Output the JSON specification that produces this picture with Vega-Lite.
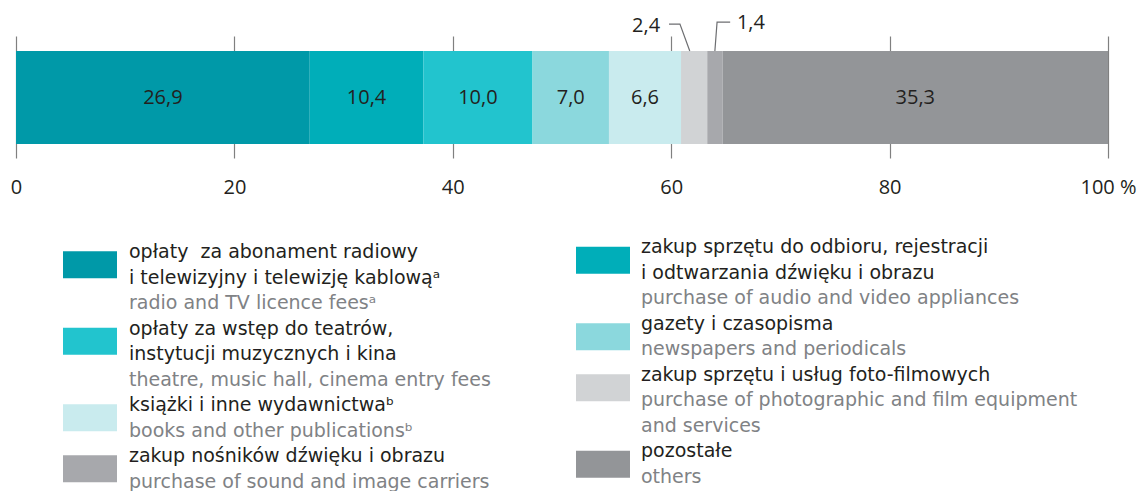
{
  "$schema": "https://vega.github.io/schema/vega-lite/v6.json",
  "width": 1146,
  "height": 491,
  "padding": 0,
  "autosize": {"type": "none"},
  "background": "#ffffff",
  "config": {
    "view": {"stroke": null},
    "font": "Open Sans",
    "locale": {"number": {"decimal": ",", "thousands": "\u00a0", "grouping": [3], "currency": ["", " zł"]}}
  },
  "datasets": {
    "segments": [
      {"key": "radio", "order": 1, "value": 26.9},
      {"key": "audio", "order": 2, "value": 10.4},
      {"key": "theatre", "order": 3, "value": 10.0},
      {"key": "news", "order": 4, "value": 7.0},
      {"key": "books", "order": 5, "value": 6.6},
      {"key": "photo", "order": 6, "value": 2.4},
      {"key": "carriers", "order": 7, "value": 1.4},
      {"key": "others", "order": 8, "value": 35.3}
    ],
    "leaders": [
      {"id": "photo", "pt": 1, "x": 59.8, "y": 1.29},
      {"id": "photo", "pt": 2, "x": 60.8, "y": 1.29},
      {"id": "photo", "pt": 3, "x": 61.7, "y": 1.0},
      {"id": "carriers", "pt": 1, "x": 65.4, "y": 1.31},
      {"id": "carriers", "pt": 2, "x": 64.2, "y": 1.31},
      {"id": "carriers", "pt": 3, "x": 64.0, "y": 1.0}
    ],
    "callouts": [
      {"key": "photo", "value": 2.4, "x": 57.7, "y": 1.208},
      {"key": "carriers", "value": 1.4, "x": 67.3, "y": 1.237}
    ],
    "swatches": [
      {"key": "radio", "col": 0, "line": 0},
      {"key": "theatre", "col": 0, "line": 3},
      {"key": "books", "col": 0, "line": 6},
      {"key": "carriers", "col": 0, "line": 8},
      {"key": "audio", "col": 1, "line": 0},
      {"key": "news", "col": 1, "line": 3},
      {"key": "photo", "col": 1, "line": 5},
      {"key": "others", "col": 1, "line": 8}
    ],
    "legendText": [
      {"col": 0, "line": 0, "lang": "pl", "text": "opłaty\u00a0 za abonament radiowy"},
      {"col": 0, "line": 1, "lang": "pl", "text": "i telewizyjny i telewizję kablową\u1d43"},
      {"col": 0, "line": 2, "lang": "en", "text": "radio and TV licence fees\u1d43"},
      {"col": 0, "line": 3, "lang": "pl", "text": "opłaty za wstęp do teatrów,"},
      {"col": 0, "line": 4, "lang": "pl", "text": "instytucji muzycznych i kina"},
      {"col": 0, "line": 5, "lang": "en", "text": "theatre, music hall, cinema entry fees"},
      {"col": 0, "line": 6, "lang": "pl", "text": "książki i inne wydawnictwa\u1d47"},
      {"col": 0, "line": 7, "lang": "en", "text": "books and other publications\u1d47"},
      {"col": 0, "line": 8, "lang": "pl", "text": "zakup nośników dźwięku i obrazu"},
      {"col": 0, "line": 9, "lang": "en", "text": "purchase of sound and image carriers"},
      {"col": 1, "line": 0, "lang": "pl", "text": "zakup sprzętu do odbioru, rejestracji"},
      {"col": 1, "line": 1, "lang": "pl", "text": "i odtwarzania dźwięku i obrazu"},
      {"col": 1, "line": 2, "lang": "en", "text": "purchase of audio and video appliances"},
      {"col": 1, "line": 3, "lang": "pl", "text": "gazety i czasopisma"},
      {"col": 1, "line": 4, "lang": "en", "text": "newspapers and periodicals"},
      {"col": 1, "line": 5, "lang": "pl", "text": "zakup sprzętu i usług foto-filmowych"},
      {"col": 1, "line": 6, "lang": "en", "text": "purchase of photographic and film equipment"},
      {"col": 1, "line": 7, "lang": "en", "text": "and services"},
      {"col": 1, "line": 8, "lang": "pl", "text": "pozostałe"},
      {"col": 1, "line": 9, "lang": "en", "text": "others"}
    ]
  },
  "layer": [
    {
      "layer": [
        {
          "data": {"name": "segments"},
          "transform": [
            {"stack": "value", "groupby": [], "sort": [{"field": "order", "order": "ascending"}], "as": ["x0", "x1"]}
          ],
          "mark": {"type": "rect"},
          "encoding": {
            "x": {
              "field": "x0", "type": "quantitative",
              "scale": {"domain": [0, 100], "range": [16, 1108], "nice": false, "zero": false},
              "axis": {
                "values": [0, 20, 40, 60, 80, 100],
                "domain": false, "grid": false, "ticks": true,
                "tickSize": -122, "tickColor": "#808080", "tickWidth": 1.2,
                "offset": -333, "zindex": 0,
                "labelPadding": 157, "labelBaseline": "alphabetic",
                "labelFontSize": 20, "labelColor": "#231f20", "labelFont": "Open Sans",
                "labelFlush": false, "labelOverlap": false, "title": null,
                "labelExpr": "datum.value == 100 ? '\u00a0\u00a0\u00a0\u00a0\u00a0100\u00a0%' : datum.label"
              }
            },
            "x2": {"field": "x1"},
            "y": {"datum": 0, "type": "quantitative", "scale": {"domain": [0, 1], "range": [144, 51], "nice": false, "zero": false}, "axis": null},
            "y2": {"datum": 1},
            "color": {
              "field": "key", "type": "nominal", "legend": null,
              "scale": {
                "domain": ["radio", "audio", "theatre", "news", "books", "photo", "carriers", "others"],
                "range": ["#0099a8", "#00aeb9", "#22c4ce", "#8bd8dd", "#c9ebee", "#d1d3d5", "#a7a8ac", "#939598"]
              }
            }
          }
        },
        {
          "data": {"name": "segments"},
          "transform": [
            {"stack": "value", "groupby": [], "sort": [{"field": "order", "order": "ascending"}], "as": ["x0", "x1"]},
            {"filter": "datum.value >= 5"},
            {"calculate": "(datum.x0 + datum.x1) / 2", "as": "mid"}
          ],
          "mark": {"type": "text", "align": "center", "baseline": "middle", "fontSize": 20, "color": "#231f20"},
          "encoding": {
            "x": {"field": "mid", "type": "quantitative"},
            "y": {"datum": 0.5, "type": "quantitative"},
            "text": {"field": "value", "type": "quantitative", "format": ".1f"}
          }
        },
        {
          "data": {"name": "leaders"},
          "mark": {"type": "line", "stroke": "#6d6e71", "strokeWidth": 1.2},
          "encoding": {
            "x": {"field": "x", "type": "quantitative"},
            "y": {"field": "y", "type": "quantitative"},
            "detail": {"field": "id"},
            "order": {"field": "pt", "type": "quantitative"}
          }
        },
        {
          "data": {"name": "callouts"},
          "mark": {"type": "text", "align": "center", "baseline": "alphabetic", "fontSize": 20, "color": "#231f20"},
          "encoding": {
            "x": {"field": "x", "type": "quantitative"},
            "y": {"field": "y", "type": "quantitative"},
            "text": {"field": "value", "type": "quantitative", "format": ".1f"}
          }
        }
      ]
    },
    {
      "layer": [
        {
          "data": {"name": "swatches"},
          "transform": [{"filter": "datum.col == 0"}],
          "mark": {"type": "point", "shape": "M-1,-0.067H1V0.933H-1Z", "size": 2916, "filled": true, "opacity": 1, "strokeWidth": 0},
          "encoding": {
            "x": {"field": "col", "type": "quantitative", "scale": {"domain": [0, 1], "range": [90, 603], "nice": false, "zero": false}, "axis": null},
            "y": {"field": "line", "type": "quantitative", "scale": {"domain": [0, 9], "range": [253.1, 482.6], "nice": false, "zero": false}, "axis": null},
            "color": {"field": "key", "type": "nominal", "legend": null}
          }
        },
        {
          "data": {"name": "swatches"},
          "transform": [{"filter": "datum.col == 1"}],
          "mark": {"type": "point", "shape": "M-1,-0.231H1V0.769H-1Z", "size": 2916, "filled": true, "opacity": 1, "strokeWidth": 0},
          "encoding": {
            "x": {"field": "col", "type": "quantitative"},
            "y": {"field": "line", "type": "quantitative"},
            "color": {"field": "key", "type": "nominal", "legend": null}
          }
        },
        {
          "data": {"name": "legendText"},
          "transform": [{"filter": "datum.col == 0"}],
          "mark": {"type": "text", "align": "left", "baseline": "alphabetic", "dx": 39, "dy": 5, "fontSize": 19, "font": "DejaVu Sans"},
          "encoding": {
            "x": {"field": "col", "type": "quantitative"},
            "y": {"field": "line", "type": "quantitative"},
            "text": {"field": "text"},
            "color": {"condition": {"test": "datum.lang == 'en'", "value": "#808285"}, "value": "#231f20"}
          }
        },
        {
          "data": {"name": "legendText"},
          "transform": [{"filter": "datum.col == 1"}],
          "mark": {"type": "text", "align": "left", "baseline": "alphabetic", "dx": 38, "dy": 0, "fontSize": 19, "font": "DejaVu Sans"},
          "encoding": {
            "x": {"field": "col", "type": "quantitative"},
            "y": {"field": "line", "type": "quantitative"},
            "text": {"field": "text"},
            "color": {"condition": {"test": "datum.lang == 'en'", "value": "#808285"}, "value": "#231f20"}
          }
        }
      ]
    }
  ],
  "resolve": {"scale": {"x": "independent", "y": "independent"}}
}
